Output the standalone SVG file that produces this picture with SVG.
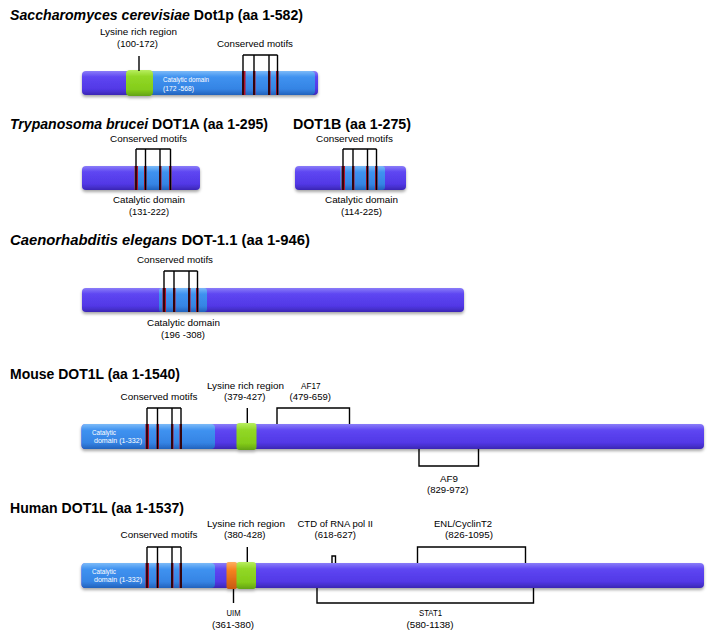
<svg xmlns="http://www.w3.org/2000/svg" width="718" height="641" viewBox="0 0 718 641">
<defs>
<linearGradient id="gP" x1="0" y1="0" x2="0" y2="1">
<stop offset="0" stop-color="#8a7cf8"/><stop offset="0.25" stop-color="#5e46f2"/><stop offset="0.75" stop-color="#5238e6"/><stop offset="1" stop-color="#3a26b4"/>
</linearGradient>
<linearGradient id="gB" x1="0" y1="0" x2="0" y2="1">
<stop offset="0" stop-color="#7cbaf8"/><stop offset="0.25" stop-color="#3f92f0"/><stop offset="0.75" stop-color="#3584e4"/><stop offset="1" stop-color="#2262bc"/>
</linearGradient>
<linearGradient id="gG" x1="0" y1="0" x2="0" y2="1">
<stop offset="0" stop-color="#b8ee60"/><stop offset="0.25" stop-color="#92d826"/><stop offset="0.75" stop-color="#84cc1a"/><stop offset="1" stop-color="#62a212"/>
</linearGradient>
<linearGradient id="gO" x1="0" y1="0" x2="0" y2="1">
<stop offset="0" stop-color="#ffb060"/><stop offset="0.3" stop-color="#f58220"/><stop offset="1" stop-color="#c85a10"/>
</linearGradient>
<filter id="sh" x="-10%" y="-30%" width="120%" height="170%">
<feDropShadow dx="0" dy="2" stdDeviation="1.4" flood-color="#000" flood-opacity="0.35"/>
</filter>
</defs>
<style>
text{font-family:"Liberation Sans",Arial,sans-serif;fill:#000}
.t{font-size:14px;font-weight:bold}
.l{font-size:9.5px}
.w{font-size:6.5px;fill:#fff}
.p{fill:url(#gP)}
.b{fill:url(#gB)}
.g{fill:url(#gG)}
.o{fill:url(#gO)}
.r{fill:#b0122e}
.k{stroke:#000;stroke-width:1.4;fill:none}
</style>
<rect width="718" height="641" fill="#fff"/>

<!-- Section 1 -->
<g id="title-scer"><text class="t" x="10" y="20" textLength="293" lengthAdjust="spacingAndGlyphs"><tspan font-style="italic">Saccharomyces cerevisiae</tspan> Dot1p (aa 1-582)</text></g>
<g id="scer-dot1p" filter="url(#sh)">
<rect class="p" x="82" y="71" width="236" height="24" rx="4"/>
<rect class="b" x="150" y="71" width="165" height="24" rx="4"/>
<rect class="g" x="126" y="70" width="27" height="26" rx="4"/>
</g>
<g id="scer-motifs">
<rect class="r" x="242" y="71" width="3.5" height="24"/>
<rect class="r" x="253" y="71" width="2.5" height="24"/>
<rect class="r" x="268" y="71" width="2.5" height="24"/>
<rect class="r" x="276" y="71" width="2.5" height="24"/>
</g>
<g id="scer-labels">
<text class="l" x="100" y="35" textLength="77" lengthAdjust="spacingAndGlyphs">Lysine rich region</text>
<text class="l" x="117" y="47" textLength="41" lengthAdjust="spacingAndGlyphs">(100-172)</text>
<text class="l" x="217" y="47" textLength="76" lengthAdjust="spacingAndGlyphs">Conserved motifs</text>
<text class="w" x="163" y="82" textLength="46" lengthAdjust="spacingAndGlyphs">Catalytic domain</text>
<text class="w" x="163" y="91" textLength="31" lengthAdjust="spacingAndGlyphs">(172 -568)</text>
</g>

<!-- Section 2 -->
<g id="title-tbru"><text class="t" x="10" y="129" textLength="258" lengthAdjust="spacingAndGlyphs"><tspan font-style="italic">Trypanosoma brucei</tspan> DOT1A (aa 1-295)</text>
<text class="t" x="293" y="129" textLength="118" lengthAdjust="spacingAndGlyphs">DOT1B (aa 1-275)</text></g>
<g id="tbru-dot1a" filter="url(#sh)">
<rect class="p" x="82" y="166" width="118" height="24" rx="4"/>
<rect class="b" x="134" y="166" width="38" height="24" rx="3"/>
</g>
<g id="tbru-dot1a-motifs">
<rect class="r" x="134.5" y="166" width="3.5" height="24"/>
<rect class="r" x="144" y="166" width="2.5" height="24"/>
<rect class="r" x="159" y="166" width="2.5" height="24"/>
<rect class="r" x="169" y="166" width="2.5" height="24"/>
</g>
<g id="tbru-dot1a-labels">
<text class="l" x="110" y="142" textLength="77" lengthAdjust="spacingAndGlyphs">Conserved motifs</text>
<text class="l" x="113" y="203" textLength="72" lengthAdjust="spacingAndGlyphs">Catalytic domain</text>
<text class="l" x="129" y="215" textLength="40" lengthAdjust="spacingAndGlyphs">(131-222)</text>
</g>
<g id="tbru-dot1b" filter="url(#sh)">
<rect class="p" x="295" y="166" width="111" height="24" rx="4"/>
<rect class="b" x="340" y="166" width="45" height="24" rx="3"/>
</g>
<g id="tbru-dot1b-motifs">
<rect class="r" x="341.5" y="166" width="3.5" height="24"/>
<rect class="r" x="352" y="166" width="2.5" height="24"/>
<rect class="r" x="366" y="166" width="2.5" height="24"/>
<rect class="r" x="375" y="166" width="2.5" height="24"/>
</g>
<g id="tbru-dot1b-labels">
<text class="l" x="316" y="142" textLength="77" lengthAdjust="spacingAndGlyphs">Conserved motifs</text>
<text class="l" x="325" y="203" textLength="73" lengthAdjust="spacingAndGlyphs">Catalytic domain</text>
<text class="l" x="341" y="215" textLength="41" lengthAdjust="spacingAndGlyphs">(114-225)</text>
</g>

<!-- Section 3 -->
<g id="title-cele"><text class="t" x="10" y="245" textLength="300" lengthAdjust="spacingAndGlyphs"><tspan font-style="italic">Caenorhabditis elegans</tspan> DOT-1.1 (aa 1-946)</text></g>
<g id="cele-dot11" filter="url(#sh)">
<rect class="p" x="82" y="288" width="382" height="24" rx="4"/>
<rect class="b" x="159" y="288" width="48" height="24" rx="3"/>
</g>
<g id="cele-motifs">
<rect class="r" x="162.5" y="288" width="3.5" height="24"/>
<rect class="r" x="173" y="288" width="2.5" height="24"/>
<rect class="r" x="188" y="288" width="2.5" height="24"/>
<rect class="r" x="196" y="288" width="2.5" height="24"/>
</g>
<g id="cele-labels">
<text class="l" x="137" y="263" textLength="76" lengthAdjust="spacingAndGlyphs">Conserved motifs</text>
<text class="l" x="147" y="326" textLength="73" lengthAdjust="spacingAndGlyphs">Catalytic domain</text>
<text class="l" x="161" y="338" textLength="44" lengthAdjust="spacingAndGlyphs">(196 -308)</text>
</g>

<!-- Section 4 -->
<g id="title-mouse"><text class="t" x="10" y="379" textLength="170" lengthAdjust="spacingAndGlyphs">Mouse DOT1L (aa 1-1540)</text></g>
<g id="mouse-dot1l" filter="url(#sh)">
<rect class="p" x="81.5" y="424" width="622.5" height="25" rx="4"/>
<rect class="b" x="81.5" y="424" width="133.5" height="25" rx="4"/>
<rect class="g" x="236.5" y="423" width="20" height="27" rx="3"/>
</g>
<g id="mouse-motifs">
<rect class="r" x="145.5" y="424" width="3.5" height="25"/>
<rect class="r" x="156.5" y="424" width="2.5" height="25"/>
<rect class="r" x="171" y="424" width="2.5" height="25"/>
<rect class="r" x="179.5" y="424" width="2.5" height="25"/>
</g>
<g id="mouse-labels">
<text class="w" x="92" y="435" textLength="24" lengthAdjust="spacingAndGlyphs">Catalytic</text>
<text class="w" x="94" y="443" textLength="48" lengthAdjust="spacingAndGlyphs">domain (1-332)</text>
<text class="l" x="120.5" y="400" textLength="77" lengthAdjust="spacingAndGlyphs">Conserved motifs</text>
<text class="l" x="207" y="389" textLength="77" lengthAdjust="spacingAndGlyphs">Lysine rich region</text>
<text class="l" x="224" y="400" textLength="41.5" lengthAdjust="spacingAndGlyphs">(379-427)</text>
<text class="l" x="301" y="389" textLength="19.5" lengthAdjust="spacingAndGlyphs">AF17</text>
<text class="l" x="289.5" y="400" textLength="41.5" lengthAdjust="spacingAndGlyphs">(479-659)</text>
<text class="l" x="440" y="482" textLength="18" lengthAdjust="spacingAndGlyphs">AF9</text>
<text class="l" x="427" y="493" textLength="41.5" lengthAdjust="spacingAndGlyphs">(829-972)</text>
</g>

<!-- Section 5 -->
<g id="title-human"><text class="t" x="10" y="513" textLength="174" lengthAdjust="spacingAndGlyphs">Human DOT1L (aa 1-1537)</text></g>
<g id="human-dot1l" filter="url(#sh)">
<rect class="p" x="81.5" y="563" width="622.5" height="25" rx="4"/>
<rect class="b" x="81.5" y="563" width="133.5" height="25" rx="4"/>
<rect class="o" x="226.5" y="562" width="10.5" height="27" rx="2"/>
<rect class="g" x="236.5" y="562" width="19.5" height="27" rx="3"/>
</g>
<g id="human-motifs">
<rect class="r" x="145.5" y="563" width="3.5" height="25"/>
<rect class="r" x="156.5" y="563" width="2.5" height="25"/>
<rect class="r" x="171" y="563" width="2.5" height="25"/>
<rect class="r" x="179.5" y="563" width="2.5" height="25"/>
</g>
<g id="human-labels">
<text class="w" x="92" y="574" textLength="24" lengthAdjust="spacingAndGlyphs">Catalytic</text>
<text class="w" x="94" y="582" textLength="48" lengthAdjust="spacingAndGlyphs">domain (1-332)</text>
<text class="l" x="120.5" y="538" textLength="77" lengthAdjust="spacingAndGlyphs">Conserved motifs</text>
<text class="l" x="207" y="527" textLength="78" lengthAdjust="spacingAndGlyphs">Lysine rich region</text>
<text class="l" x="224" y="538" textLength="41.5" lengthAdjust="spacingAndGlyphs">(380-428)</text>
<text class="l" x="297.5" y="527" textLength="75.5" lengthAdjust="spacingAndGlyphs">CTD of RNA pol II</text>
<text class="l" x="314.5" y="538" textLength="41.5" lengthAdjust="spacingAndGlyphs">(618-627)</text>
<text class="l" x="434" y="527" textLength="58" lengthAdjust="spacingAndGlyphs">ENL/CyclinT2</text>
<text class="l" x="445" y="538" textLength="48" lengthAdjust="spacingAndGlyphs">(826-1095)</text>
<text class="l" x="226.5" y="616" textLength="14" lengthAdjust="spacingAndGlyphs">UIM</text>
<text class="l" x="212" y="628" textLength="42" lengthAdjust="spacingAndGlyphs">(361-380)</text>
<text class="l" x="419" y="616" textLength="23" lengthAdjust="spacingAndGlyphs">STAT1</text>
<text class="l" x="406.5" y="628" textLength="47" lengthAdjust="spacingAndGlyphs">(580-1138)</text>
</g>

<!-- Connectors: brackets and leader lines -->
<g id="connectors" class="k">
<path d="M139 56V71"/>
<path d="M243 55H277.5M243 55V95M254 55V95M269 55V95M277.5 55V95"/>
<path d="M136 149H170.5M136 149V190M145.5 149V190M160 149V190M170.5 149V190"/>
<path d="M343 149H376.5M343 149V190M353 149V190M367.5 149V190M376.5 149V190"/>
<path d="M164 271H197.5M164 271V312M174 271V312M189 271V312M197.5 271V312"/>
<path d="M147 408H181M147 408V449M157.5 408V449M172 408V449M181 408V449"/>
<path d="M247.3 408V423"/>
<path d="M277 424V408H349.5V424"/>
<path d="M419 449V466H478.5V449"/>
<path d="M147 547H181M147 547V588M157.5 547V588M172 547V588M181 547V588"/>
<path d="M247.3 547V562"/>
<path d="M332 563V556H335.5V563"/>
<path d="M417.5 563V547H525.5V563"/>
<path d="M317 588V603H533.5V588"/>
<path d="M233.5 589V603"/>
</g>
</svg>
